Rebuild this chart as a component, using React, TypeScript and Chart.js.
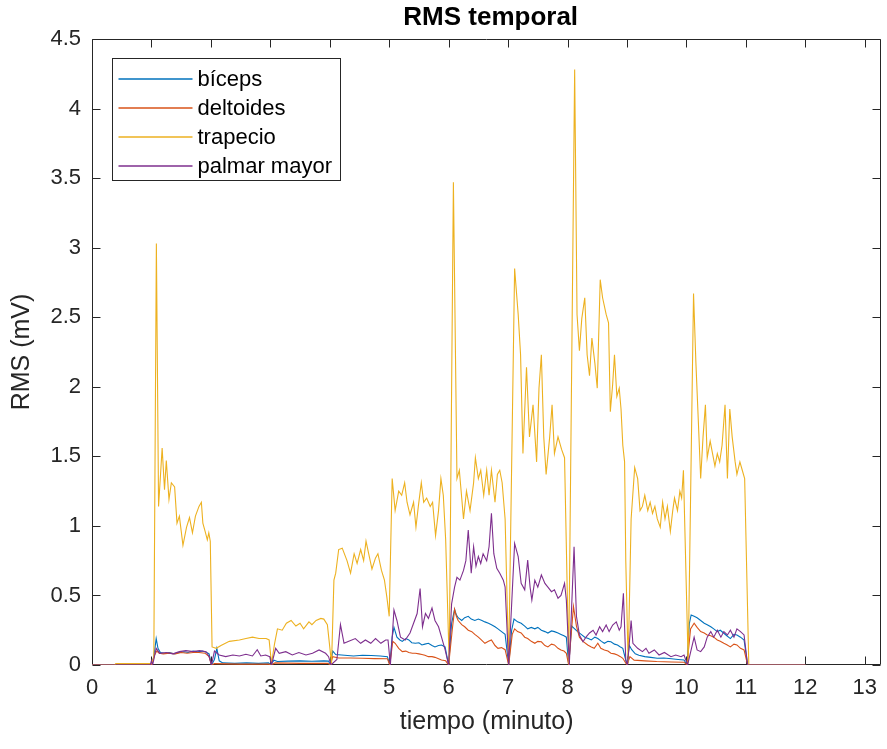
import React, { useEffect, useRef } from 'react';
import { Chart, registerables } from 'chart.js';

Chart.register(...registerables);

const FONT = "'Liberation Sans', Arial, Helvetica, sans-serif";

const chartTitle = 'RMS temporal';
const xAxisTitle = 'tiempo (minuto)';
const yAxisTitle = 'RMS (mV)';
const xMin = 0;
const xMax = 13.28;
const yMin = 0;
const yMax = 4.5;
const xTickValues = [0, 1, 2, 3, 4, 5, 6, 7, 8, 9, 10, 11, 12, 13];
const yTickValues = [0, 0.5, 1, 1.5, 2, 2.5, 3, 3.5, 4, 4.5];

const seriesNames = ['bíceps', 'deltoides', 'trapecio', 'palmar mayor'];
const seriesColors = ['#0072BD', '#D95319', '#EDB120', '#7E2F8E'];

// bíceps
const bicepsT = [0, 1.0, 1.04, 1.08, 1.11, 1.15, 1.22, 1.3, 1.38, 1.46, 1.55, 1.62, 1.7, 1.78, 1.86, 1.93, 1.97, 2.01,
  2.06, 2.1, 2.14, 2.2, 2.4, 2.6, 2.8, 2.97, 3.01,
  3.06, 3.12, 3.3, 3.5, 3.7, 3.9, 3.98, 4.01,
  4.05, 4.1, 4.25, 4.4, 4.55, 4.7, 4.85, 4.97, 5.01,
  5.05, 5.08, 5.13, 5.18, 5.22, 5.28, 5.33, 5.38, 5.44, 5.5, 5.55, 5.6, 5.66, 5.72, 5.77, 5.83, 5.88, 5.94, 6.0,
  6.05, 6.1, 6.13, 6.16, 6.22, 6.27, 6.33, 6.38, 6.44, 6.5, 6.56, 6.61, 6.67, 6.72, 6.78, 6.83, 6.89, 6.95, 7.01,
  7.06, 7.1, 7.16, 7.22, 7.28, 7.33, 7.39, 7.45, 7.5, 7.56, 7.62, 7.67, 7.73, 7.78, 7.84, 7.89, 7.94, 7.98, 8.02,
  8.07, 8.12, 8.17, 8.23, 8.29, 8.35, 8.4, 8.46, 8.51, 8.57, 8.62, 8.68, 8.73, 8.79, 8.84, 8.89, 8.93, 9.0,
  9.04, 9.08, 9.14, 9.2, 9.3, 9.4, 9.51, 9.62, 9.75, 9.86, 9.96, 10.01,
  10.05, 10.08, 10.13, 10.18, 10.24, 10.3, 10.35, 10.41, 10.46, 10.52, 10.57, 10.63, 10.68, 10.74, 10.8, 10.85, 10.91, 10.97, 11.03, 12.0];
const bicepsV = [0, 0, 0.06, 0.19, 0.12, 0.09, 0.085, 0.09, 0.08, 0.09, 0.095, 0.09, 0.1, 0.095, 0.1, 0.09, 0.08, 0,
  0.04, 0.12, 0.03, 0.015, 0.012, 0.015, 0.012, 0.015, 0,
  0.035, 0.025, 0.028, 0.03, 0.027, 0.03, 0.028, 0,
  0.1, 0.075, 0.07, 0.065, 0.07, 0.068, 0.065, 0.06, 0,
  0.2, 0.27, 0.2, 0.18, 0.17, 0.19, 0.18, 0.16, 0.156, 0.16, 0.144, 0.15, 0.156, 0.14, 0.13, 0.14, 0.144, 0.13, 0,
  0.3, 0.4, 0.36, 0.34, 0.32, 0.34, 0.35, 0.33, 0.32, 0.33, 0.32, 0.31, 0.3, 0.29, 0.275, 0.26, 0.24, 0.22, 0,
  0.25, 0.33, 0.31, 0.3, 0.28, 0.26, 0.27, 0.26, 0.27, 0.25, 0.24, 0.23, 0.245, 0.24, 0.23, 0.22, 0.21, 0.2, 0,
  0.28, 0.26, 0.24, 0.22, 0.2, 0.19, 0.18, 0.2, 0.19, 0.17, 0.156, 0.17, 0.167, 0.15, 0.144, 0.13, 0.12, 0,
  0.14, 0.11, 0.08, 0.07, 0.06, 0.055, 0.048, 0.05, 0.045, 0.04, 0.036, 0,
  0.3, 0.36, 0.35, 0.34, 0.32, 0.3, 0.29, 0.275, 0.26, 0.24, 0.25, 0.228, 0.21, 0.19, 0.22, 0.216, 0.2, 0.18, 0, 0];

// deltoides
const deltoidesT = [0, 1.0, 1.05, 1.09, 1.13, 1.2, 1.3, 1.4, 1.5, 1.6, 1.7, 1.8, 1.9, 1.97, 2.01,
  2.06, 2.5, 2.97, 3.01, 3.08, 3.5, 3.97, 4.01,
  4.05, 4.15, 4.35, 4.55, 4.75, 4.97, 5.01,
  5.06, 5.1, 5.16, 5.22, 5.28, 5.33, 5.39, 5.44, 5.5, 5.55, 5.6, 5.66, 5.72, 5.77, 5.83, 5.88, 5.95, 6.0,
  6.06, 6.1, 6.13, 6.16, 6.22, 6.27, 6.33, 6.39, 6.44, 6.5, 6.55, 6.61, 6.67, 6.72, 6.78, 6.83, 6.89, 6.95, 7.01,
  7.07, 7.11, 7.16, 7.22, 7.28, 7.33, 7.39, 7.45, 7.5, 7.56, 7.62, 7.67, 7.73, 7.78, 7.84, 7.89, 7.94, 7.98, 8.02,
  8.1, 8.15, 8.2, 8.26, 8.34, 8.4, 8.45, 8.51, 8.56, 8.62, 8.68, 8.73, 8.79, 8.84, 8.89, 8.93, 9.0,
  9.05, 9.12, 9.3, 9.5, 9.75, 9.96, 10.01,
  10.07, 10.13, 10.18, 10.24, 10.3, 10.35, 10.41, 10.46, 10.52, 10.57, 10.63, 10.68, 10.74, 10.8, 10.85, 10.91, 10.97, 11.03, 12.0];
const deltoidesV = [0, 0, 0.07, 0.1, 0.085, 0.08, 0.085, 0.08, 0.09, 0.085, 0.09, 0.09, 0.085, 0.06, 0,
  0.01, 0.006, 0.006, 0, 0.015, 0.012, 0.012, 0,
  0.06, 0.05, 0.05, 0.048, 0.046, 0.045, 0,
  0.17, 0.156, 0.12, 0.096, 0.1, 0.09, 0.085, 0.084, 0.08, 0.075, 0.07, 0.06, 0.06, 0.055, 0.045, 0.036, 0.03, 0,
  0.25, 0.4, 0.35, 0.32, 0.29, 0.275, 0.25, 0.24, 0.22, 0.2, 0.18, 0.156, 0.17, 0.18, 0.14, 0.12, 0.125, 0.11, 0,
  0.22, 0.26, 0.24, 0.23, 0.2, 0.19, 0.17, 0.156, 0.17, 0.167, 0.14, 0.13, 0.15, 0.144, 0.12, 0.108, 0.1, 0.084, 0,
  0.42, 0.28, 0.2, 0.17, 0.144, 0.13, 0.12, 0.156, 0.12, 0.108, 0.1, 0.084, 0.08, 0.072, 0.06, 0.048, 0,
  0.06, 0.035, 0.03, 0.025, 0.022, 0.02, 0,
  0.26, 0.3, 0.27, 0.24, 0.23, 0.216, 0.21, 0.2, 0.18, 0.17, 0.156, 0.145, 0.13, 0.15, 0.144, 0.12, 0.108, 0, 0];

// trapecio
const trapecioT = [0, 0.38, 0.4, 1.0, 1.04, 1.083, 1.12, 1.18, 1.22, 1.25, 1.295, 1.335, 1.39, 1.43, 1.47, 1.53, 1.59, 1.64, 1.69, 1.74, 1.8, 1.84, 1.865, 1.91, 1.94, 1.965, 1.99,
  2.02, 2.09, 2.17, 2.31, 2.48, 2.59, 2.7, 2.81, 2.93, 2.98, 3.02,
  3.07, 3.12, 3.2, 3.27, 3.35, 3.43, 3.5, 3.56, 3.65, 3.7, 3.77, 3.85, 3.9, 3.96, 4.03,
  4.07, 4.1, 4.15, 4.21, 4.29, 4.35, 4.41, 4.46, 4.52, 4.57, 4.61, 4.66, 4.71, 4.77, 4.81, 4.87, 4.92, 4.96, 5.0,
  5.05, 5.1, 5.16, 5.21, 5.26, 5.3, 5.35, 5.41, 5.45, 5.49, 5.54, 5.58, 5.63, 5.69, 5.73, 5.78, 5.83, 5.87, 5.91, 5.95, 6.01,
  6.08, 6.14, 6.18, 6.22, 6.25, 6.3, 6.36, 6.42, 6.45, 6.5, 6.54, 6.59, 6.64, 6.68, 6.72, 6.78, 6.82, 6.86, 6.9, 6.95, 7.01,
  7.11, 7.17, 7.21, 7.25, 7.31, 7.36, 7.42, 7.48, 7.52, 7.56, 7.6, 7.64, 7.7, 7.74, 7.78, 7.84, 7.9, 7.95, 8.02,
  8.12, 8.16, 8.2, 8.24, 8.29, 8.33, 8.37, 8.41, 8.46, 8.5, 8.55, 8.59, 8.65, 8.69, 8.72, 8.76, 8.79, 8.83, 8.87, 8.9, 8.93, 8.96, 8.98, 9.02,
  9.07, 9.13, 9.18, 9.22, 9.26, 9.3, 9.35, 9.39, 9.43, 9.47, 9.51, 9.56, 9.6, 9.64, 9.68, 9.73, 9.77, 9.8, 9.85, 9.89, 9.92, 9.95, 9.97, 10.03,
  10.12, 10.16, 10.2, 10.24, 10.28, 10.32, 10.35, 10.4, 10.44, 10.48, 10.52, 10.56, 10.6, 10.65, 10.69, 10.73, 10.77, 10.82, 10.85, 10.9, 10.94, 10.98, 11.05, 12.0];
const trapecioV = [0, 0, 0.01, 0.01, 0.05, 3.03, 1.14, 1.56, 1.26, 1.47, 1.19, 1.31, 1.28, 1.02, 1.07, 0.86, 0.99, 1.06, 0.95, 1.07, 1.14, 1.17, 1.02, 0.95, 0.9, 0.95, 0.89,
  0.13, 0.12, 0.14, 0.17, 0.18, 0.19, 0.2, 0.19, 0.19, 0.18, 0.01,
  0.15, 0.26, 0.25, 0.3, 0.32, 0.28, 0.3, 0.26, 0.31, 0.29, 0.32, 0.335, 0.33, 0.29, 0.01,
  0.61, 0.66, 0.83, 0.84, 0.75, 0.66, 0.8, 0.73, 0.83, 0.75, 0.89, 0.79, 0.69, 0.77, 0.8, 0.68, 0.61, 0.49, 0.35,
  1.34, 1.11, 1.25, 1.22, 1.31, 1.17, 1.08, 1.17, 0.99, 1.14, 1.31, 1.17, 1.2, 1.14, 1.17, 0.93, 1.11, 1.34, 1.22, 0.9, 0.01,
  3.47, 1.34, 1.4, 1.2, 1.05, 1.25, 1.11, 1.31, 1.49, 1.34, 1.4, 1.22, 1.4, 1.22, 1.4, 1.17, 1.37, 1.4, 1.31, 1.05, 0.01,
  2.85, 2.52, 2.23, 1.52, 2.14, 1.64, 1.87, 1.46, 1.99, 2.23, 1.64, 1.37, 1.64, 1.87, 1.52, 1.64, 1.55, 1.49, 0.01,
  4.28, 2.52, 2.26, 2.49, 2.64, 2.23, 2.08, 2.35, 2.17, 1.99, 2.77, 2.64, 2.52, 2.46, 1.82, 2.02, 2.23, 1.93, 1.99, 1.84, 1.58, 1.46, 0.75, 0.01,
  1.05, 1.42, 1.34, 1.11, 1.14, 1.22, 1.11, 1.17, 1.09, 1.14, 1.05, 0.99, 1.17, 1.05, 1.14, 0.96, 1.11, 1.2, 1.11, 1.25, 1.2, 1.4, 1.05, 0.01,
  2.67, 2.17, 1.76, 1.34, 1.64, 1.87, 1.49, 1.61, 1.52, 1.43, 1.52, 1.46, 1.58, 1.87, 1.34, 1.84, 1.64, 1.46, 1.37, 1.46, 1.4, 1.34, 0, 0];

// palmar mayor
const palmarT = [0, 0.98, 1.0, 1.02, 1.06, 1.08, 1.14, 1.25, 1.36, 1.47, 1.58, 1.7, 1.81, 1.92, 1.97, 2.01,
  2.06, 2.14, 2.25, 2.37, 2.48, 2.59, 2.7, 2.78, 2.84, 2.92, 2.99, 3.02,
  3.09, 3.15, 3.26, 3.37, 3.48, 3.6, 3.71, 3.82, 3.93, 3.98, 4.02,
  4.12, 4.18, 4.24, 4.32, 4.43, 4.52, 4.6, 4.69, 4.77, 4.86, 4.94, 4.98, 5.02,
  5.08, 5.13, 5.19, 5.27, 5.35, 5.41, 5.47, 5.52, 5.56, 5.61, 5.66, 5.72, 5.77, 5.83, 5.88, 5.94, 6.0,
  6.05, 6.1, 6.14, 6.19, 6.25, 6.29, 6.33, 6.38, 6.42, 6.46, 6.5, 6.54, 6.58, 6.64, 6.68, 6.72, 6.76, 6.81, 6.86, 6.92, 6.95, 7.01,
  7.11, 7.17, 7.22, 7.28, 7.33, 7.37, 7.4, 7.45, 7.5, 7.56, 7.62, 7.67, 7.73, 7.78, 7.84, 7.89, 7.95, 7.98, 8.03,
  8.11, 8.15, 8.2, 8.26, 8.31, 8.37, 8.43, 8.48, 8.54, 8.59, 8.65, 8.7, 8.76, 8.82, 8.87, 8.9, 8.94, 8.98, 9.01,
  9.07, 9.1, 9.18, 9.26, 9.32, 9.37, 9.46, 9.54, 9.63, 9.74, 9.82, 9.91, 9.96, 10.02,
  10.13, 10.18, 10.24, 10.3, 10.35, 10.41, 10.46, 10.52, 10.58, 10.63, 10.69, 10.74, 10.8, 10.85, 10.91, 10.97, 11.03, 12.0];
const palmarV = [0, 0, 0.03, 0, 0.08, 0.12, 0.084, 0.09, 0.08, 0.096, 0.103, 0.096, 0.103, 0.096, 0.06, 0,
  0.1, 0.072, 0.06, 0.072, 0.065, 0.077, 0.065, 0.11, 0.065, 0.072, 0.06, 0,
  0.12, 0.084, 0.096, 0.072, 0.09, 0.072, 0.084, 0.108, 0.084, 0.06, 0,
  0.04, 0.29, 0.156, 0.17, 0.19, 0.156, 0.18, 0.156, 0.19, 0.156, 0.18, 0.18, 0,
  0.395, 0.32, 0.2, 0.18, 0.23, 0.3, 0.37, 0.55, 0.275, 0.37, 0.335, 0.41, 0.32, 0.275, 0.2, 0.11, 0,
  0.44, 0.56, 0.63, 0.61, 0.68, 0.75, 0.97, 0.66, 0.85, 0.71, 0.78, 0.73, 0.8, 0.75, 0.85, 1.09, 0.8, 0.695, 0.66, 0.61, 0.56, 0,
  0.874, 0.78, 0.587, 0.54, 0.754, 0.56, 0.467, 0.61, 0.56, 0.647, 0.587, 0.56, 0.527, 0.54, 0.48, 0.5, 0.587, 0.467, 0,
  0.85, 0.35, 0.216, 0.167, 0.2, 0.23, 0.25, 0.216, 0.275, 0.24, 0.287, 0.24, 0.287, 0.31, 0.25, 0.275, 0.515, 0.036, 0,
  0.32, 0.156, 0.12, 0.096, 0.12, 0.084, 0.108, 0.072, 0.09, 0.06, 0.072, 0.06, 0.072, 0,
  0.2, 0.108, 0.096, 0.13, 0.2, 0.24, 0.2, 0.25, 0.2, 0.24, 0.216, 0.25, 0.2, 0.26, 0.24, 0.216, 0, 0];

const seriesT = [bicepsT, deltoidesT, trapecioT, palmarT];
const seriesV = [bicepsV, deltoidesV, trapecioV, palmarV];

const frameColor = '#262626';
const tickLen = 8;

const framePlugin = {
  id: 'matlabFrame',
  beforeDatasetsDraw(chart: any) {
    const { ctx, chartArea: a, scales } = chart;
    const L = Math.round(a.left) + 0.5;
    const R = Math.round(a.right) - 0.5;
    const T = Math.round(a.top) + 0.5;
    const B = Math.round(a.bottom) - 0.5;
    ctx.save();
    ctx.strokeStyle = frameColor;
    ctx.lineWidth = 1;
    ctx.beginPath();
    ctx.moveTo(L, T); ctx.lineTo(R, T); ctx.lineTo(R, B); ctx.lineTo(L, B); ctx.closePath();
    scales.x.ticks.forEach((t: any) => {
      const px = Math.round(scales.x.getPixelForValue(t.value)) + 0.5;
      ctx.moveTo(px, B); ctx.lineTo(px, B - tickLen);
      ctx.moveTo(px, T); ctx.lineTo(px, T + tickLen);
    });
    scales.y.ticks.forEach((t: any) => {
      const py = Math.round(scales.y.getPixelForValue(t.value)) + 0.5;
      ctx.moveTo(L, py); ctx.lineTo(L + tickLen, py);
      ctx.moveTo(R, py); ctx.lineTo(R - tickLen, py);
    });
    ctx.stroke();
    // title centred over the axes box, as MATLAB does
    ctx.fillStyle = '#000000';
    ctx.font = `bold 26px ${FONT}`;
    ctx.textAlign = 'center';
    ctx.textBaseline = 'middle';
    ctx.fillText(chartTitle, (a.left + a.right) / 2 + 4, 18);
    ctx.restore();
  },
};

const legendPlugin = {
  id: 'matlabLegend',
  afterDraw(chart: any) {
    const { ctx, chartArea: a } = chart;
    const left = Math.round(a.left) + 20.5;
    const top = Math.round(a.top) + 19.5;
    const w = 228;
    const h = 122;
    const rowH = 29.3;
    ctx.save();
    ctx.fillStyle = '#ffffff';
    ctx.fillRect(left, top, w, h);
    ctx.strokeStyle = frameColor;
    ctx.lineWidth = 1;
    ctx.strokeRect(left, top, w, h);
    ctx.font = `22px ${FONT}`;
    ctx.textBaseline = 'middle';
    ctx.textAlign = 'left';
    chart.data.datasets.forEach((ds: any, i: number) => {
      const y = Math.round(top + 20 + i * rowH);
      ctx.strokeStyle = seriesColors[i];
      ctx.lineWidth = 1.3;
      ctx.beginPath();
      ctx.moveTo(left + 6, y);
      ctx.lineTo(left + 80, y);
      ctx.stroke();
      ctx.fillStyle = '#000000';
      ctx.fillText(ds.label, left + 85, y + 1);
    });
    ctx.restore();
  },
};

export default function App() {
  const ref = useRef<HTMLCanvasElement | null>(null);

  useEffect(() => {
    if (!ref.current) return;
    const datasets = seriesNames.map((name, i) => ({
      label: name,
      data: seriesT[i].map((t, k) => ({ x: t, y: seriesV[i][k] })),
      borderColor: seriesColors[i],
      backgroundColor: seriesColors[i],
      borderWidth: 1.1,
      pointRadius: 0,
      fill: false,
      tension: 0,
      order: seriesNames.length - i,
    }));
    const chart = new Chart(ref.current, {
      type: 'line',
      data: { datasets },
      options: {
        responsive: false,
        animation: false,
        events: [],
        layout: { padding: { left: 0, right: 2, top: 39, bottom: 0 } },
        plugins: {
          legend: { display: false },
          tooltip: { enabled: false },
          title: { display: false, text: chartTitle },
        },
        scales: {
          x: {
            type: 'linear',
            min: xMin,
            max: xMax,
            afterBuildTicks: (s: any) => { s.ticks = xTickValues.map((v) => ({ value: v })); },
            afterFit: (s: any) => { s.height = 84; },
            grid: { display: false, drawTicks: false },
            border: { display: false },
            ticks: {
              font: { family: FONT, size: 22 },
              color: frameColor,
              padding: 10,
              maxRotation: 0,
              autoSkip: false,
              callback: (v: any) => String(v),
            },
            title: {
              display: true,
              text: xAxisTitle,
              color: frameColor,
              font: { family: FONT, size: 25, lineHeight: 1.2 },
              padding: { top: 0, bottom: 12 },
            },
          },
          y: {
            type: 'linear',
            min: yMin,
            max: yMax,
            afterBuildTicks: (s: any) => { s.ticks = yTickValues.map((v) => ({ value: v })); },
            afterFit: (s: any) => { s.width = 92; },
            grid: { display: false, drawTicks: false },
            border: { display: false },
            ticks: {
              font: { family: FONT, size: 22 },
              color: frameColor,
              padding: 11,
              autoSkip: false,
              callback: (v: any) => String(v),
            },
            title: {
              display: true,
              text: yAxisTitle,
              color: frameColor,
              font: { family: FONT, size: 25, lineHeight: 1.2 },
              padding: { top: 7, bottom: 0 },
            },
          },
        },
      },
      plugins: [framePlugin, legendPlugin],
    } as any);
    return () => chart.destroy();
  }, []);

  return (
    <div style={{ position: 'fixed', left: 0, top: 0, width: 887, height: 749, background: '#ffffff' }}>
      <canvas ref={ref} width={887} height={749} style={{ width: 887, height: 749, display: 'block' }} />
    </div>
  );
}
